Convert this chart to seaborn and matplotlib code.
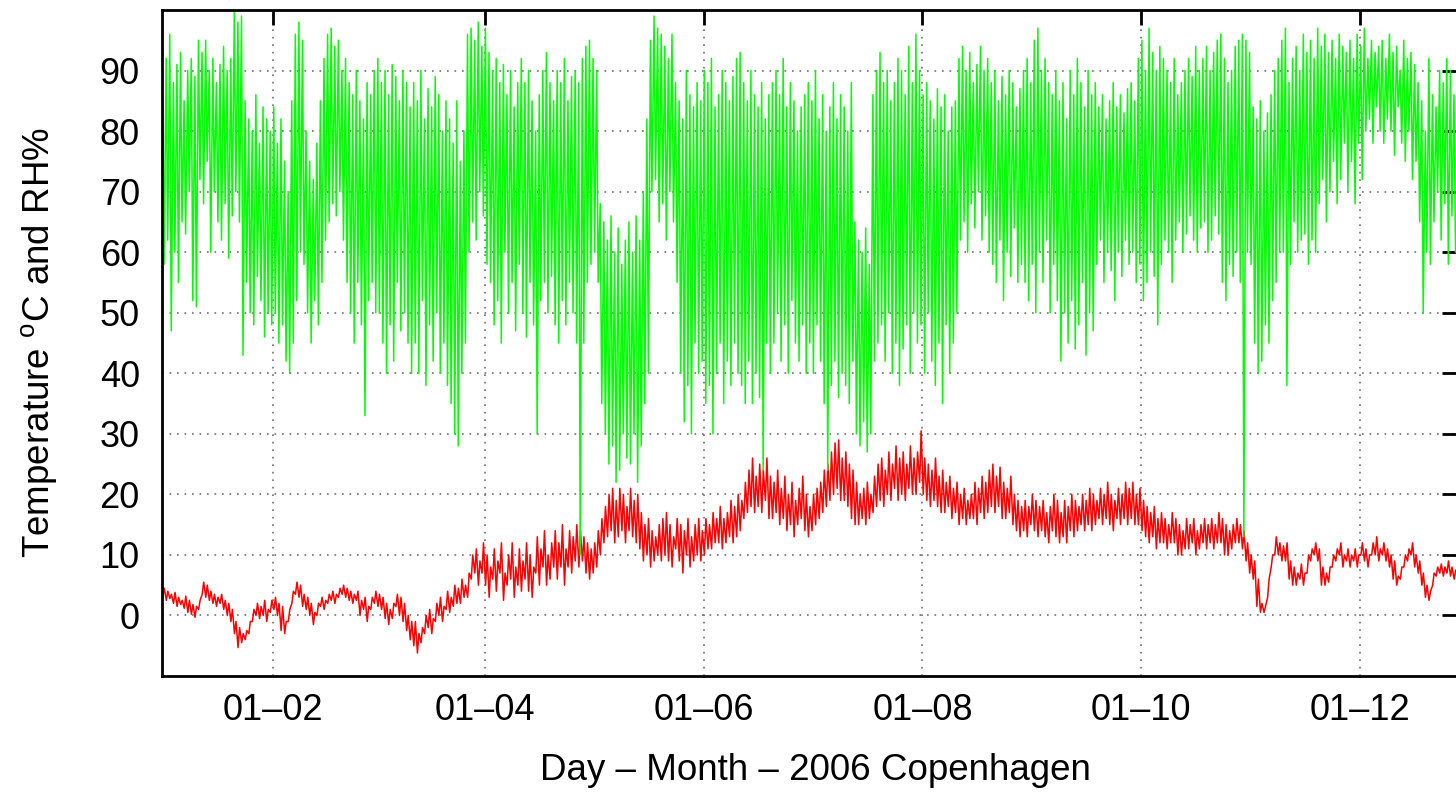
import numpy as np
import pandas as pd
import matplotlib
matplotlib.use("Agg")
import matplotlib.pyplot as plt
import seaborn as sns

START = "2006-01-01"
END = "2006-12-28"

# Daily relative humidity maxima / minima (%), day 0 = 1 Jan
RH_HI = [
    90, 92, 96, 88, 91, 93, 85, 90, 92, 89,
    95, 93, 95, 90, 92, 88, 91, 94, 90, 92,
    100, 98, 99, 85, 82, 80, 86, 78, 84, 82,
    80, 84, 78, 82, 75, 70, 85, 96, 98, 95,
    80, 75, 72, 78, 85, 92, 96, 97, 94, 95,
    90, 92, 88, 86, 90, 85, 82, 88, 86, 90,
    92, 88, 90, 86, 91, 89, 85, 90, 88, 84,
    88, 85, 90, 82, 87, 84, 89, 86, 80, 85,
    82, 78, 85, 75, 80, 96, 97, 95, 98, 94,
    97, 93, 90, 92, 88, 91, 86, 90, 84, 88,
    92, 88, 90, 85, 80, 86, 90, 93, 88, 85,
    90, 88, 92, 85, 89, 90, 88, 92, 94, 95,
    92, 90, 68, 65, 62, 66, 60, 64, 58, 62,
    65, 60, 66, 62, 70, 82, 95, 99, 97, 96,
    94, 92, 96, 88, 85, 82, 90, 86, 84, 88,
    85, 90, 88, 92, 84, 86, 90, 88, 85, 89,
    92, 93, 88, 85, 90, 86, 84, 88, 82, 86,
    88, 90, 86, 92, 84, 88, 85, 80, 84, 86,
    88, 85, 90, 82, 86, 80, 84, 88, 82, 86,
    84, 80, 88, 65, 62, 60, 64, 58, 86, 90,
    93, 88, 90, 85, 88, 92, 90, 86, 94, 88,
    96, 90, 86, 88, 85, 82, 87, 84, 86, 80,
    84, 85, 92, 94, 90, 93, 88, 91, 94, 90,
    92, 88, 90, 85, 89, 86, 90, 88, 84, 87,
    90, 92, 88, 95, 97, 90, 92, 88, 86, 90,
    85, 88, 82, 90, 86, 92, 88, 84, 90, 86,
    88, 84, 86, 82, 85, 88, 84, 86, 83, 87,
    88, 85, 92, 95, 90, 97, 93, 90, 94, 92,
    90, 88, 92, 86, 88, 90, 92, 89, 94, 90,
    92, 94, 90, 93, 95, 96, 92, 88, 90, 94,
    95, 96, 95, 93, 84, 82, 85, 80, 83, 86,
    90, 92, 95, 97, 88, 92, 94, 90, 96, 93,
    95, 92, 97, 94, 96, 93, 95, 92, 96, 94,
    93, 95, 92, 96, 94, 97, 92, 95, 93, 94,
    95, 92, 96, 93, 94, 90, 95, 92, 93, 91,
    88, 85, 80, 92, 86, 84, 90, 88, 92, 90, 86,
]
RH_LO = [
    58, 62, 47, 60, 55, 65, 63, 70, 52, 51,
    72, 68, 75, 60, 70, 65, 62, 68, 59, 66,
    70, 65, 43, 55, 50, 48, 56, 52, 46, 50,
    48, 50, 45, 48, 42, 40, 45, 52, 60, 58,
    50, 45, 52, 48, 55, 62, 65, 68, 66, 70,
    62, 55, 50, 45, 55, 48, 33, 52, 55, 50,
    50, 45, 40, 48, 42, 55, 47, 50, 45, 40,
    45, 40, 52, 38, 48, 42, 50, 40, 45, 38,
    35, 30, 28, 40, 45, 60, 65, 62, 70, 66,
    58, 55, 48, 52, 45, 60, 50, 55, 47, 58,
    50, 46, 55, 48, 30, 52, 55, 50, 56, 48,
    45, 52, 48, 55, 50, 45, 10, 45, 55, 58,
    60, 55, 35, 30, 25, 28, 22, 24, 30, 26,
    25, 30, 22, 28, 35, 40, 70, 72, 65, 68,
    62, 70, 65, 55, 40, 32, 38, 30, 45, 40,
    42, 35, 38, 30, 40, 45, 35, 42, 38, 45,
    40, 38, 35, 42, 35, 40, 36, 24, 45, 40,
    45, 50, 42, 48, 40, 52, 45, 42, 48, 40,
    45, 40, 48, 42, 35, 24, 38, 42, 36, 40,
    38, 35, 42, 30, 28, 32, 27, 30, 42, 45,
    48, 42, 50, 40, 45, 38, 44, 48, 40, 50,
    45, 48, 40, 50, 42, 38, 45, 35, 48, 40,
    45, 50, 62, 65, 60, 68, 64, 70, 62, 66,
    60, 58, 55, 62, 52, 60, 56, 64, 55, 58,
    55, 52, 58, 50, 60, 55, 62, 50, 58, 52,
    42, 50, 45, 52, 44, 48, 55, 43, 50, 47,
    58, 62, 55, 60, 57, 52, 60, 56, 62, 58,
    60, 55, 58, 52, 55, 60, 56, 48, 58, 62,
    60, 55, 62, 65, 60, 63, 66, 62, 60, 64,
    65, 60, 62, 66, 63, 55, 52, 58, 56, 60,
    55, 13, 60, 58, 45, 40, 42, 48, 45, 52,
    55, 60, 60, 38, 58, 65, 60, 62, 63, 58,
    62, 60, 68, 72, 65, 70, 75, 68, 72, 78,
    70, 75, 68, 78, 72, 80, 82, 78, 84, 80,
    78, 82, 80, 76, 84, 78, 75, 80, 72, 75,
    65, 50, 60, 58, 65, 70, 62, 68, 58, 66, 60,
]
# Daily temperature maxima / minima (deg C)
T_HI = [
    4.5, 4, 3.5, 3.8, 3, 2.5, 3.2, 2.5, 1.8, 1.5,
    2.5, 5.5, 5, 4, 3.5, 3, 3.5, 2.5, 2, 1,
    -1, -2, -3, -2.5, -1, 1, 2, 1.5, 2.5, 1,
    2.5, 3, 2, 1.5, -1, 1, 4, 5.5, 5, 3.5,
    3, 2, 0.5, 2, 3, 2.5, 3.5, 4, 3.5, 4.5,
    5, 4.5, 4, 3.5, 4, 2.5, 3, 1.5, 3, 4,
    3.5, 3, 2, 1, 2, 3.5, 3, 2, 0, -1,
    -1, -3, -2, 0, 1, -0.5, 2, 3, 1.5, 4,
    3, 5, 4.5, 6, 5, 7, 10, 11, 9, 12,
    10, 8, 11, 9, 12, 7, 10, 12, 8, 11,
    9, 12, 10, 8, 13, 11, 14, 10, 12, 14,
    12, 15, 11, 14, 13, 15, 14, 13, 12, 11,
    12, 14, 16, 18, 20, 21, 19, 21, 20, 18,
    21, 19, 20, 17, 15, 16, 14, 13, 15, 16,
    17, 15, 13, 16, 15, 14, 16, 13, 15, 16,
    14, 16, 15, 17, 16, 18, 16, 17, 19, 18,
    20, 19, 22, 24, 26, 23, 25, 24, 26, 23,
    22, 24, 21, 23, 20, 22, 19, 21, 23, 20,
    18, 20, 21, 22, 24, 25, 27, 28.5, 29, 26,
    27, 25, 24, 22, 20, 21, 22, 20, 23, 25,
    26, 24, 27, 25, 28, 26, 27, 25, 28, 26,
    27, 30.5, 26, 25, 24, 26, 23, 24, 22, 23,
    21, 22, 20, 21, 19, 20, 22, 21, 23, 22,
    24, 25, 23, 24.5, 22, 21, 23, 20, 19, 18,
    19, 18, 20, 19, 18, 19, 17, 18, 20, 19,
    17, 19, 18, 20, 19, 18, 20, 19, 21, 20,
    19, 21, 20, 22, 20, 19, 21, 20, 22, 21,
    22, 20, 21, 19, 18, 17, 18, 16, 17, 16,
    15, 17, 16, 15, 14, 16, 15, 16, 14, 15,
    16, 15, 16, 15, 17, 16, 15, 14, 15, 16,
    15, 14, 12, 10, 9, 6, 2, 1.5, 6, 10,
    13, 12, 11.5, 12, 9, 8, 7, 8.5, 7, 10,
    11, 12, 11, 8, 7, 8, 10, 11, 12, 10,
    11, 10, 11, 10, 12, 11, 10, 12, 13, 11,
    12, 11, 10, 9, 6.5, 8, 10, 11, 12, 10,
    9, 7, 5, 4, 7, 8, 8.5, 8, 9, 8, 7.5,
]
T_LO = [
    3, 2.5, 2.8, 2, 1.5, 1.8, 1.2, 0.5, 0.2, -0.3,
    1, 3.5, 3, 2.5, 2, 1.5, 2, 1, 0, -1,
    -3, -5.3, -4.5, -4, -3, -1, 0, -0.5, 0, -1,
    0.5, 1, 0, -2.5, -3, -1, 2, 3.5, 3, 1.5,
    1, 0, -1.5, 0, 1.5, 1, 2, 2.5, 2, 3,
    3.5, 3, 2.5, 2, 2.5, 0, 1, -1, 1, 2,
    1.5, 1, -0.5, -1.5, -0.5, 1.5, 0, -1, -2.5, -4,
    -5, -6.2, -4.5, -3, -2, -3, -1, 0, -1, 1,
    0.5, 1.5, 2, 2, 3, 3, 6, 7, 5, 7,
    5, 3, 6, 4, 7, 2.5, 5, 6, 3, 5,
    4, 6, 4, 3, 7, 5, 8, 5, 6, 8,
    6, 8, 5, 8, 7, 9, 8, 9, 7, 6,
    7, 8, 10, 12, 13, 14, 12, 13, 14, 12,
    14, 13, 12, 11, 9, 10, 8, 9, 10, 9,
    10, 9, 8, 11, 9, 7, 10, 8, 9, 10,
    9, 10, 11, 11, 12, 12, 11, 12, 13, 12,
    13, 14, 16, 17, 18, 17, 18, 17, 19, 16,
    16, 17, 15, 16, 14, 15, 13, 15, 16, 14,
    13, 14, 15, 16, 17, 18, 19, 20, 21, 19,
    19, 18, 16, 15, 15, 16, 15, 16, 17, 18,
    19, 18, 20, 19, 21, 19, 20, 19, 21, 20,
    20, 22, 20, 19, 18, 19, 18, 17, 17, 18,
    16, 17, 15, 16, 15, 16, 16, 15, 17, 16,
    17, 18, 17, 18, 16, 16, 17, 15, 14, 13,
    14, 13, 15, 14, 13, 14, 13, 12, 14, 13,
    12, 13, 12, 14, 13, 14, 15, 14, 15, 14,
    15, 16, 15, 16, 15, 14, 16, 15, 16, 15,
    16, 15, 15, 14, 13, 12, 13, 11, 12, 12,
    11, 12, 12, 10, 10, 11, 11, 12, 10, 11,
    12, 11, 12, 11, 12, 12, 10, 10, 11, 12,
    12, 11, 9, 7, 6, 1.5, 0.5, 0.5, 3, 8,
    10, 10, 9, 9, 6, 5, 5, 6, 5, 7,
    9, 10, 9, 5, 5, 5.5, 8, 9, 10, 8,
    9, 8, 9, 8, 10, 9, 8, 10, 10, 9,
    10, 9, 8, 6, 5, 6, 8, 9, 10, 8,
    7, 5, 3, 2.5, 5, 6.5, 7, 6.5, 7, 6.5, 6,
]

TICK_DATES = ["2006-02-01", "2006-04-01", "2006-06-01", "2006-08-01", "2006-10-01", "2006-12-01"]
TICK_LABELS = ["01\u201302", "01\u201304", "01\u201306", "01\u201308", "01\u201310", "01\u201312"]
YTICKS = [0, 10, 20, 30, 40, 50, 60, 70, 80, 90]
XLABEL = "Day \u2013 Month \u2013 2006 Copenhagen"
YLABEL = "Temperature $^{\\rm o}$C and RH%"


def build(hi, lo, hi_hour, lo_hour):
    base = pd.Timestamp(START)
    times, vals = [], []
    for d in range(len(hi)):
        for h, v in sorted([(hi_hour, hi[d]), (lo_hour, lo[d])]):
            times.append(base + pd.Timedelta(days=d, hours=h))
            vals.append(v)
    return pd.DataFrame({"time": times, "value": vals})


rh = build(RH_HI, RH_LO, 4, 14)
tp = build(T_HI, T_LO, 15, 5)

sns.set_style("white")
plt.rcParams["font.family"] = ["Liberation Sans", "DejaVu Sans"]
plt.rcParams["mathtext.fontset"] = "custom"
plt.rcParams["mathtext.rm"] = "Liberation Sans"
plt.rcParams["text.color"] = "black"

W, H = 1456, 792
fig = plt.figure(figsize=(W / 100, H / 100), dpi=100)
ax = fig.add_axes([162 / W, (H - 676) / H, 1295 / W, 666 / H])

sns.lineplot(data=tp, x="time", y="value", color="#ff0000", lw=1.1,
             estimator=None, sort=False, ax=ax)
sns.lineplot(data=rh, x="time", y="value", color="#00ff00", lw=1.1,
             estimator=None, sort=False, ax=ax)

ax.set_xlim(pd.Timestamp(START), pd.Timestamp(END))
ax.set_ylim(-10, 100)
ax.set_xticks([pd.Timestamp(d) for d in TICK_DATES])
ax.set_xticklabels(TICK_LABELS)
ax.set_yticks(YTICKS)
ax.set_yticklabels([str(v) for v in YTICKS])
ax.set_xlabel("")
ax.set_ylabel("")

ax.set_axisbelow(True)
ax.grid(True, linestyle=(0, (1, 3.5)), color="#707070", lw=1.2)
ax.tick_params(direction="in", length=11, width=2, top=True, right=True,
               labelsize=26, colors="black")
ax.tick_params(axis="x", pad=12)
ax.tick_params(axis="y", pad=16)
for s in ax.spines.values():
    s.set_linewidth(2)
    s.set_color("black")
    s.set_visible(True)

fig.text(815 / W, 1 - 780 / H, XLABEL, ha="center", va="baseline",
         fontsize=26.5, color="black")
fig.text(40 / W, 1 - 343 / H, YLABEL, ha="center", va="center",
         fontsize=26.5, rotation=90, color="black")

fig.savefig("out.png", dpi=100)
